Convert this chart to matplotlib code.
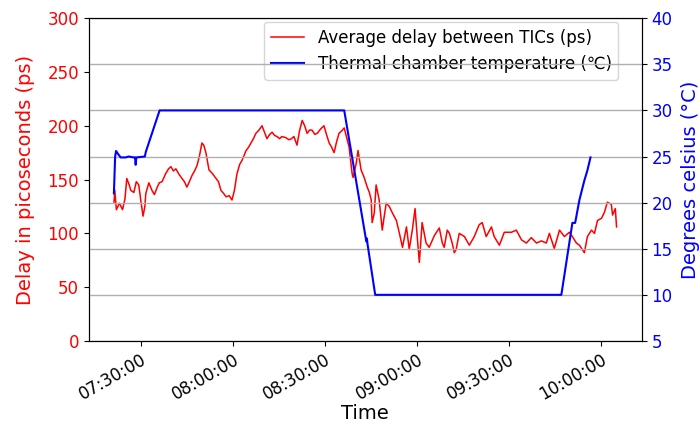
import datetime as dt
import matplotlib
matplotlib.use("Agg")
import matplotlib.pyplot as plt
import matplotlib.dates as mdates

# minutes after 07:00 and average delay (ps)
delay_minutes = [21.2, 21.5, 22.0, 23.0, 24.0, 24.8, 25.4, 26.2, 26.7, 27.7, 28.5, 29.3, 30.0, 30.7,
                 31.3, 31.6, 32.6, 33.6, 34.4, 35.2, 36.0, 36.9, 38.0, 39.0, 39.8, 40.6, 41.4, 42.4,
                 43.4, 44.2, 45.0, 45.8, 46.7, 47.5, 48.3, 49.1, 49.9, 50.5, 51.2, 52.2, 53.2, 54.5,
                 55.3, 56.1, 57.0, 57.8, 58.8, 59.7, 60.5, 61.3, 62.2, 63.0, 64.3, 65.1, 65.9, 66.7,
                 67.5, 68.5, 69.5, 70.3, 71.1, 72.0, 72.8, 73.6, 74.4, 75.2, 76.0, 77.2, 78.3, 79.1,
                 79.9, 80.9, 81.7, 82.6, 83.4, 84.2, 85.0, 85.8, 86.7, 87.5, 88.6, 89.7, 90.5, 91.4,
                 92.2, 93.0, 93.8, 94.6, 95.4, 96.3, 97.3, 97.9, 98.9, 99.2, 100.2, 100.8, 101.8,
                 102.8, 103.8, 104.5, 105.1, 105.4, 106.1, 106.7, 107.7, 108.7, 109.3, 110.0, 111.0,
                 112.0, 113.3, 114.3, 115.3, 116.6, 117.5, 118.5, 119.4, 120.1, 120.8, 121.7, 123.0,
                 124.0, 125.7, 127.3, 128.3, 128.9, 129.9, 130.6, 131.5, 132.2, 132.8, 133.8, 135.5,
                 137.1, 138.7, 140.3, 141.3, 142.6, 144.3, 145.2, 146.9, 148.5, 150.8, 152.4, 154.1,
                 155.7, 157.3, 159.0, 160.6, 162.2, 163.2, 164.8, 166.5, 168.1, 169.7, 170.7, 172.0,
                 173.0, 174.6, 175.6, 176.9, 177.9, 178.9, 180.2, 181.2, 182.1, 183.4, 183.8, 184.7,
                 185.1]
delay_ps = [128, 140, 122, 128, 122, 132, 151, 145, 140, 138, 148, 145, 130, 116,
            125, 137, 147, 140, 136, 142, 147, 148, 155, 160, 162, 158, 160, 155,
            151, 148, 143, 148, 154, 158, 163, 172, 184, 182, 175, 159, 156, 151,
            148, 140, 137, 134, 135, 131, 140, 155, 164, 168, 177, 180, 184, 188,
            193, 196, 200, 194, 188, 192, 194, 191, 190, 188, 190, 189, 187, 188,
            190, 182, 195, 205, 200, 193, 196, 196, 192, 193, 197, 200, 192, 184,
            180, 175, 185, 193, 195, 198, 187, 180, 155, 152, 165, 177, 159,
            152, 143, 138, 131, 110, 119, 145, 131, 103, 115, 128, 125,
            119, 112, 100, 87, 106, 85, 103, 123, 97, 73, 110, 91,
            87, 98, 105, 91, 87, 103, 100, 91, 82, 85, 100, 97,
            89, 97, 108, 110, 97, 106, 97, 89, 101, 101, 103, 94,
            91, 96, 91, 93, 91, 100, 86, 103, 97, 101, 97, 91,
            89, 82, 97, 103, 100, 112, 114, 120, 129, 127, 117, 123,
            106]

# minutes after 07:00 and chamber temperature (degC)
temp_minutes = [21.2, 21.6, 21.9, 22.5, 23.4, 25.0, 26.0, 27.7, 28.1, 28.3, 28.5, 31.3, 31.6, 36.1,
                96.3, 103.5, 103.7, 103.9, 106.4, 167.1, 170.7, 171.6, 173.0, 174.6, 175.6, 176.6]
temp_c = [21.0, 25.0, 25.6, 25.3, 24.9, 24.9, 25.0, 24.9, 24.9, 24.1, 24.9, 25.0, 25.5, 30.0,
          30.0, 15.8, 16.1, 15.5, 10.0, 10.0, 17.8, 17.8, 20.3, 22.4, 23.5, 24.9]

base = dt.datetime(2020, 1, 1, 7, 0, 0)
delay_t = [base + dt.timedelta(minutes=m) for m in delay_minutes]
temp_t = [base + dt.timedelta(minutes=m) for m in temp_minutes]

fig = plt.figure(figsize=(6.99, 4.23), dpi=100)
ax1 = fig.add_axes([0.127, 0.194, 0.791, 0.763])
ax2 = ax1.twinx()

l1, = ax1.plot(delay_t, delay_ps, color="red", lw=1.1, label="Average delay between TICs (ps)")
l2, = ax2.plot(temp_t, temp_c, color="blue", lw=1.5, label="Thermal chamber temperature (\u2103)")

ax1.set_ylim(0, 300)
ax2.set_ylim(5, 40)
ax2.grid(True, axis="y", color="#b0b0b0", lw=1.0)

ax1.xaxis.set_major_locator(mdates.MinuteLocator(byminute=[0, 30]))
ax1.xaxis.set_major_formatter(mdates.DateFormatter("%H:%M:%S"))
ax1.tick_params(axis="x", labelsize=12)
for lab in ax1.get_xticklabels():
    lab.set_rotation(30)
    lab.set_ha("right")
    lab.set_va("top")
    lab.set_rotation_mode("anchor")
ax1.tick_params(axis="y", labelsize=12, labelcolor="red")
ax2.tick_params(axis="y", labelsize=12, labelcolor="blue")

ax1.set_xlabel("Time", fontsize=14)
ax1.xaxis.set_label_coords(0.5, -0.195)
ax1.set_ylabel("Delay in picoseconds (ps)", fontsize=14, color="red", labelpad=9)
ax2.set_ylabel("Degrees celsius (\u00b0C)", fontsize=14, color="blue", labelpad=6)

ax1.legend(handles=[l1, l2], loc="upper right", fontsize=12,
           bbox_to_anchor=(0.958, 0.988), borderaxespad=0)

fig.savefig("out.png", dpi=100)
